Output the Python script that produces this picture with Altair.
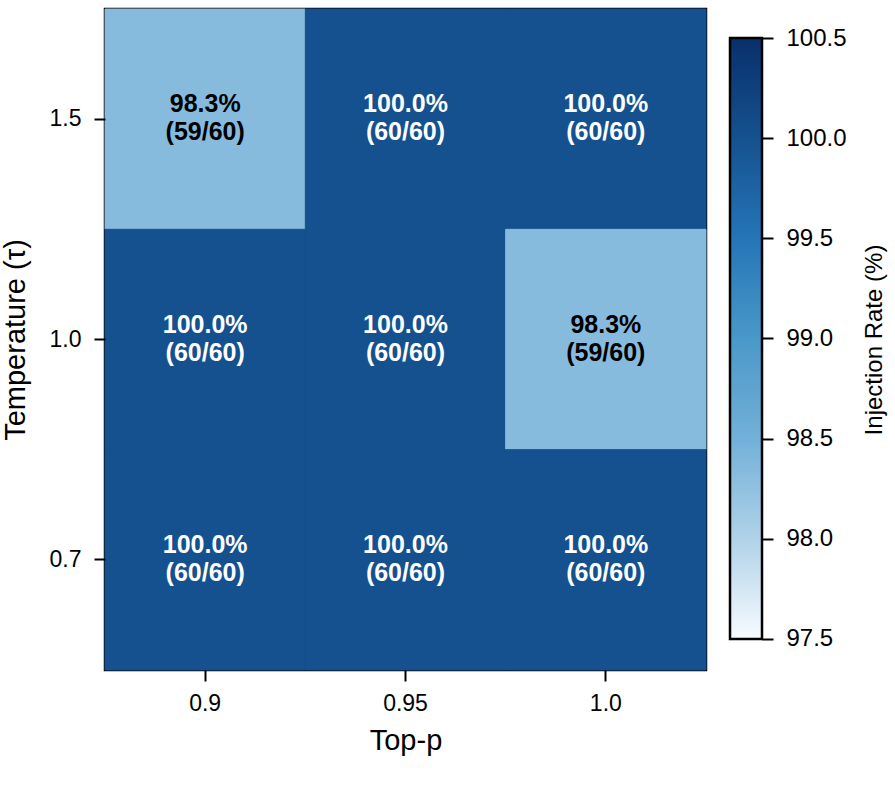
import altair as alt
import pandas as pd

# ---- data ----
TOP_P = ["0.9", "0.95", "1.0"]
TEMPS = ["1.5", "1.0", "0.7"]           # top to bottom
SUCCESSES = [                            # rows follow TEMPS, columns follow TOP_P
    [59, 60, 60],
    [60, 60, 59],
    [60, 60, 60],
]
TOTAL = 60
CBAR_TICKS = [97.5, 98.0, 98.5, 99.0, 99.5, 100.0, 100.5]
CBAR_COLORS = ["#f7fbff", "#b0d2e8", "#72b0d8", "#4a98c9", "#2575b7", "#15518f", "#08306b"]

rows = []
for i, t in enumerate(TEMPS):
    for j, p in enumerate(TOP_P):
        s = SUCCESSES[i][j]
        rate = 100.0 * s / TOTAL
        rows.append({
            "top_p": p,
            "temp": t,
            "rate": rate,
            "label": f"{rate:.1f}%\n({s}/{TOTAL})",
        })
df = pd.DataFrame(rows)

FONT = "Liberation Sans"

color_scale = alt.Scale(domain=CBAR_TICKS, range=CBAR_COLORS, interpolate="rgb")

base = alt.Chart(df).encode(
    x=alt.X("top_p:N", sort=TOP_P, scale=alt.Scale(paddingInner=0, paddingOuter=0),
            axis=alt.Axis(title="Top-p", labelAngle=0, domain=False, grid=False,
                          tickSize=11, tickWidth=2, tickColor="black",
                          labelFontSize=23, labelColor="black", labelPadding=11,
                          labelFont=FONT, titleFont=FONT, titleFontSize=29,
                          titleFontWeight="normal", titleColor="black", titlePadding=11)),
    y=alt.Y("temp:N", sort=TEMPS, scale=alt.Scale(paddingInner=0, paddingOuter=0),
            axis=alt.Axis(title="Temperature (τ)", domain=False, grid=False,
                          tickSize=11, tickWidth=2, tickColor="black",
                          labelFontSize=23, labelColor="black", labelPadding=13,
                          labelFont=FONT, titleFont=FONT, titleFontSize=29,
                          titleFontWeight="normal", titleColor="black", titlePadding=19)),
)

cells = base.mark_rect(strokeWidth=1).encode(
    color=alt.Color("rate:Q", scale=color_scale, legend=None),
    stroke=alt.Stroke("rate:Q", scale=color_scale, legend=None),
)

texts = base.mark_text(font=FONT, fontSize=25, fontWeight="bold", lineBreak="\n",
                       lineHeight=28, baseline="middle", align="center", dy=-15).encode(
    text="label:N",
    color=alt.condition(alt.datum.rate < 99, alt.value("black"), alt.value("white")),
)

heat = alt.layer(cells, texts).properties(
    width=601, height=661,
    view=alt.ViewBackground(stroke="black", strokeWidth=2.5),
)

# ---- colorbar ----
stops = [
    alt.GradientStop(offset=(v - CBAR_TICKS[0]) / (CBAR_TICKS[-1] - CBAR_TICKS[0]), color=c)
    for v, c in zip(CBAR_TICKS, CBAR_COLORS)
]
gradient = alt.LinearGradient(gradient="linear", stops=stops, x1=0, x2=0, y1=1, y2=0)

cbar_df = pd.DataFrame({"lo": [CBAR_TICKS[0]], "hi": [CBAR_TICKS[-1]]})
cbar = alt.Chart(cbar_df).mark_rect(color=gradient, stroke="black", strokeWidth=2.5).encode(
    y=alt.Y("lo:Q", scale=alt.Scale(domain=[97.345, 100.645], nice=False, zero=False),
            axis=alt.Axis(orient="right", values=CBAR_TICKS, format=".1f", domain=False,
                          grid=False, tickSize=11, tickWidth=2, tickColor="black",
                          labelFontSize=24, labelColor="black", labelPadding=13,
                          labelFont=FONT, title="Injection Rate (%)", titleFont=FONT,
                          titleFontSize=24, titleFontWeight="normal", titleColor="black",
                          titleAngle=270, titleBaseline="bottom", titlePadding=40)),
    y2="hi:Q",
).properties(width=32, height=661, view=alt.ViewBackground(stroke=None))

chart = alt.hconcat(heat, cbar, spacing=20).properties(
    padding={"left": -1, "top": 7, "right": 5, "bottom": 5},
    background="white",
).configure_view(strokeWidth=0)

chart.save("out.html", embed_options={"renderer": "svg", "actions": False})
